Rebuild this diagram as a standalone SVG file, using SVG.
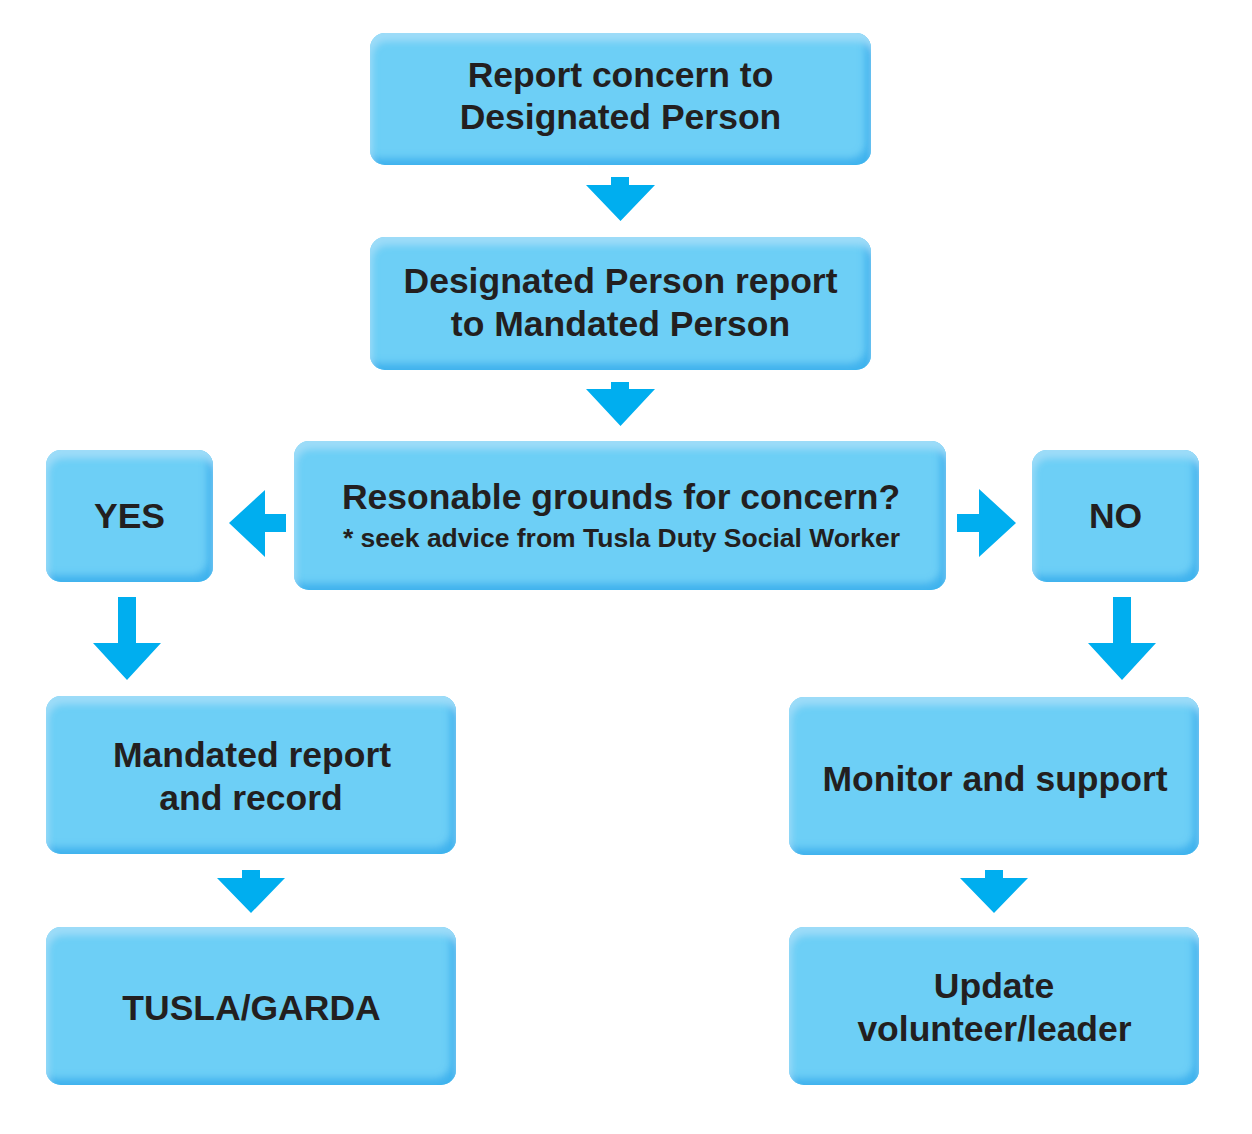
<svg xmlns="http://www.w3.org/2000/svg" width="1252" height="1134" viewBox="0 0 1252 1134">
  <style>
    .box { fill: #6dcff6; filter: url(#bevel); }
    .lbl { font-family: "Liberation Sans", Arial, sans-serif; font-weight: bold; font-size: 35.5px; fill: #231f20; text-anchor: middle; }
    .sub { font-size: 26.5px; }
    .arrow { fill: #00aeef; }
  </style>
  <defs>
    <!-- soft inner bevel: light top/left rim, darker bottom/right rim -->
    <filter id="bevel" x="-5%" y="-5%" width="110%" height="110%">
      <feGaussianBlur in="SourceAlpha" stdDeviation="3.5" result="blur"/>
      <feOffset in="blur" dx="-6" dy="-7" result="shiftUp"/>
      <feComposite in="SourceAlpha" in2="shiftUp" operator="out" result="darkEdge"/>
      <feFlood flood-color="#41b3ee"/>
      <feComposite in2="darkEdge" operator="in" result="dark"/>
      <feOffset in="blur" dx="2" dy="8" result="shiftDown"/>
      <feComposite in="SourceAlpha" in2="shiftDown" operator="out" result="lightEdge"/>
      <feFlood flood-color="#9ddcf8"/>
      <feComposite in2="lightEdge" operator="in" result="light"/>
      <feMerge>
        <feMergeNode in="SourceGraphic"/>
        <feMergeNode in="dark"/>
        <feMergeNode in="light"/>
      </feMerge>
    </filter>
  </defs>

  <rect width="1252" height="1134" fill="#ffffff"/>

  <g id="report-concern">
    <rect class="box" x="370" y="33" width="501" height="132" rx="15"/>
    <text class="lbl" x="620.5" y="87">Report concern to</text>
    <text class="lbl" x="620.5" y="129">Designated Person</text>
  </g>

  <g id="designated-report">
    <rect class="box" x="370" y="237" width="501" height="133" rx="15"/>
    <text class="lbl" x="620.5" y="293">Designated Person report</text>
    <text class="lbl" x="620.5" y="336">to Mandated Person</text>
  </g>

  <g id="grounds">
    <rect class="box" x="294" y="441" width="652" height="149" rx="15"/>
    <text class="lbl" x="621" y="509">Resonable grounds for concern?</text>
    <text class="lbl sub" x="621.5" y="547">* seek advice from Tusla Duty Social Worker</text>
  </g>

  <g id="yes">
    <rect class="box" x="46" y="450" width="167" height="132" rx="15"/>
    <text class="lbl" x="129.5" y="528">YES</text>
  </g>

  <g id="no">
    <rect class="box" x="1032" y="450" width="167" height="132" rx="15"/>
    <text class="lbl" x="1115.5" y="528">NO</text>
  </g>

  <g id="mandated-report">
    <rect class="box" x="46" y="696" width="410" height="158" rx="15"/>
    <text class="lbl" x="252" y="767">Mandated report</text>
    <text class="lbl" x="251" y="810">and record</text>
  </g>

  <g id="tusla-garda">
    <rect class="box" x="46" y="927" width="410" height="158" rx="15"/>
    <text class="lbl" x="251.5" y="1020">TUSLA/GARDA</text>
  </g>

  <g id="monitor">
    <rect class="box" x="789" y="697" width="410" height="158" rx="15"/>
    <text class="lbl" x="995" y="791">Monitor and support</text>
  </g>

  <g id="update">
    <rect class="box" x="789" y="927" width="410" height="158" rx="15"/>
    <text class="lbl" x="994" y="998">Update</text>
    <text class="lbl" x="994.5" y="1041">volunteer/leader</text>
  </g>

  <g id="connectors">
    <!-- short down arrows between stacked boxes -->
    <polygon class="arrow" points="611,177 629,177 629,185 655,185 620.5,221 586,185 611,185"/>
    <polygon class="arrow" points="611,382 629,382 629,389 655,389 620.5,426 586,389 611,389"/>
    <polygon class="arrow" points="242,870 260,870 260,878 285,878 251,913 217,878 242,878"/>
    <polygon class="arrow" points="985,870 1003,870 1003,878 1028,878 994,913 960,878 985,878"/>
    <!-- side arrows out of the decision box -->
    <polygon class="arrow" points="286,514 286,532 265,532 265,557 229,523 265,490 265,514"/>
    <polygon class="arrow" points="957,514 979,514 979,489 1016,523 979,557 979,532 957,532"/>
    <!-- long down arrows under YES / NO -->
    <polygon class="arrow" points="118,597 136,597 136,643 161,643 127,680 93,643 118,643"/>
    <polygon class="arrow" points="1113,597 1131,597 1131,643 1156,643 1122,680 1088,643 1113,643"/>
  </g>
</svg>
